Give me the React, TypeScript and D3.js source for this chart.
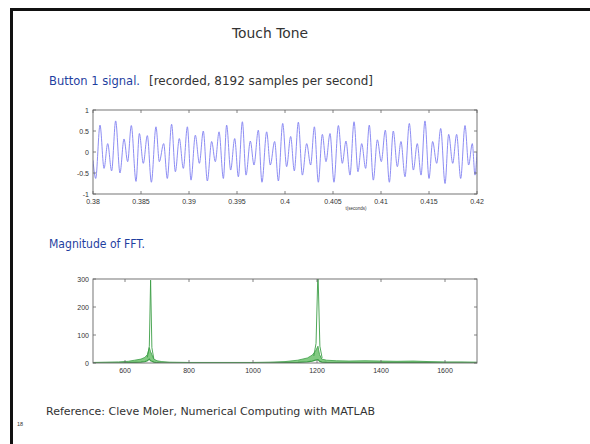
import React from 'react';
import * as d3 from 'd3';

// ---- Button 1 signal: extrema (t in seconds, value) ----
const signalT = [
  0.38, 0.38028, 0.38073, 0.38115, 0.38153, 0.38194, 0.38236, 0.38281, 0.38323, 0.38361,
  0.38399, 0.38448, 0.38483, 0.38524, 0.38566, 0.38608, 0.38656, 0.38691, 0.38736, 0.38774,
  0.38819, 0.38858, 0.38899, 0.38941, 0.38983, 0.39021, 0.39066, 0.39108, 0.39149, 0.39191,
  0.39236, 0.39274, 0.39313, 0.39358, 0.39392, 0.39434, 0.39476, 0.39514, 0.39556, 0.39594,
  0.39639, 0.39677, 0.39722, 0.3976, 0.39809, 0.39847, 0.39892, 0.39931, 0.39976, 0.40017,
  0.40059, 0.40097, 0.40139, 0.40181, 0.40226, 0.40267, 0.40306, 0.40347, 0.40389, 0.40427,
  0.40469, 0.4051, 0.40556, 0.40597, 0.40635, 0.40677, 0.40719, 0.4076, 0.40799, 0.4084,
  0.40878, 0.4092, 0.40962, 0.41003, 0.41045, 0.41087, 0.41128, 0.4117, 0.41208, 0.4125,
  0.41295, 0.41337, 0.41378, 0.41417, 0.41458, 0.415, 0.41538, 0.4158, 0.41622, 0.41667,
  0.41705, 0.41747, 0.41788, 0.4183, 0.41875, 0.41913, 0.41951, 0.41979, 0.42,
];
const signalV = [
  -0.2, -0.63, 0.64, -0.39, 0.2, -0.45, 0.74, -0.5, 0.31, -0.23,
  0.63, -0.7, 0.44, -0.27, 0.39, -0.72, 0.6, -0.23, 0.2, -0.63,
  0.66, -0.47, 0.32, -0.39, 0.6, -0.67, 0.4, -0.27, 0.5, -0.69,
  0.25, -0.23, 0.48, -0.63, 0.64, -0.43, 0.32, -0.59, 0.72, -0.55,
  0.26, -0.31, 0.52, -0.72, 0.48, -0.31, 0.25, -0.69, 0.68, -0.35,
  0.37, -0.45, 0.71, -0.55, 0.2, -0.31, 0.6, -0.72, 0.42, -0.23,
  0.44, -0.72, 0.63, -0.27, 0.26, -0.55, 0.72, -0.47, 0.2, -0.39,
  0.64, -0.67, 0.29, -0.23, 0.52, -0.72, 0.5, -0.35, 0.25, -0.59,
  0.68, -0.43, 0.2, -0.55, 0.74, -0.63, 0.25, -0.27, 0.56, -0.75,
  0.42, -0.27, 0.42, -0.63, 0.63, -0.31, 0.2, -0.55, 0.0,
];
const sigXTicks = [0.38, 0.385, 0.39, 0.395, 0.4, 0.405, 0.41, 0.415, 0.42];
const sigYTicks = [-1, -0.5, 0, 0.5, 1];

// ---- Magnitude of FFT: band envelope ----
const bandF = [500, 540, 580, 610, 630, 650, 662, 670, 676, 680, 684, 690, 700, 715, 740, 800, 900, 1000, 1050, 1100, 1140, 1170, 1185, 1195, 1203, 1208, 1215, 1230, 1260, 1300, 1350, 1400, 1450, 1500, 1550, 1600, 1650, 1700];
const bandHi = [2, 3, 4, 6, 10, 14, 20, 30, 55, 40, 30, 14, 8, 5, 3, 2, 2, 2, 3, 5, 10, 18, 28, 42, 60, 30, 14, 10, 8, 7, 8, 7, 6, 7, 5, 4, 4, 3];
const bandLo = [0, 0, 0, 1, 2, 3, 5, 8, 14, 8, 6, 3, 1, 0, 0, 0, 0, 0, 0, 1, 2, 4, 7, 10, 12, 6, 3, 2, 1, 1, 1, 1, 1, 1, 1, 0, 0, 0];
const peak1F = [670, 676, 680, 684, 690];
const peak1M = [20, 60, 296, 55, 15];
const peak2F = [1190, 1197, 1203, 1209, 1216];
const peak2M = [25, 70, 330, 60, 18];
const fftXTicks = [600, 800, 1000, 1200, 1400, 1600];
const fftYTicks = [0, 100, 200, 300];

const tickFont = 'Liberation Sans, Arial, sans-serif';
const textFont = '"Comic Sans MS", "DejaVu Sans", sans-serif';

function Frame({ x, y, xTicks, yTicks, fmt }: any) {
  const [x0, x1] = x.range();
  const [y0, y1] = y.range(); // y0 bottom, y1 top
  const tl = 3;
  return (
    <g>
      <rect x={x0} y={y1} width={x1 - x0} height={y0 - y1} fill="none" stroke="#666" strokeWidth={0.9} />
      {xTicks.map((t: number) => (
        <g key={'x' + t}>
          <line x1={x(t)} x2={x(t)} y1={y0} y2={y0 - tl} stroke="#666" strokeWidth={0.8} />
          <line x1={x(t)} x2={x(t)} y1={y1} y2={y1 + tl} stroke="#666" strokeWidth={0.8} />
          <text x={x(t)} y={y0 + 10} textAnchor="middle" fontSize={7} fontFamily={tickFont} fill="#333">{fmt(t)}</text>
        </g>
      ))}
      {yTicks.map((t: number) => (
        <g key={'y' + t}>
          <line x1={x0} x2={x0 + tl} y1={y(t)} y2={y(t)} stroke="#666" strokeWidth={0.8} />
          <line x1={x1} x2={x1 - tl} y1={y(t)} y2={y(t)} stroke="#666" strokeWidth={0.8} />
          <text x={x0 - 4} y={y(t) + 2.5} textAnchor="end" fontSize={7} fontFamily={tickFont} fill="#333">{fmt(t)}</text>
        </g>
      ))}
    </g>
  );
}

export default function App() {
  const fmt = (v: number) => String(+v.toFixed(3));

  // top plot
  const xs = d3.scaleLinear().domain([0.38, 0.42]).range([93, 477]);
  const ys = d3.scaleLinear().domain([-1, 1]).range([194, 110]);
  const sigPts = signalT.map((t, i) => [t, signalV[i]] as [number, number]);
  const sigLine = d3.line<[number, number]>().x(d => xs(d[0])).y(d => ys(d[1])).curve(d3.curveMonotoneX)(sigPts) || '';

  // bottom plot
  const xf = d3.scaleLinear().domain([500, 1700]).range([93, 477]);
  const yf = d3.scaleLinear().domain([0, 300]).range([363, 279]);
  const band = bandF.map((f, i) => ({ f, hi: bandHi[i], lo: bandLo[i] }));
  const bandArea = d3.area<any>().x(d => xf(d.f)).y0(d => yf(d.lo)).y1(d => yf(d.hi)).curve(d3.curveLinear)(band) || '';
  const bandTop = d3.line<any>().x(d => xf(d.f)).y(d => yf(d.hi))(band) || '';
  const bandBot = d3.line<any>().x(d => xf(d.f)).y(d => yf(d.lo))(band) || '';
  const p1 = d3.line<number>().x(f => xf(f)).y((f, i) => yf(peak1M[i]))(peak1F) || '';
  const p2 = d3.line<number>().x(f => xf(f)).y((f, i) => yf(peak2M[i]))(peak2F) || '';

  return (
    <svg width={590} height={444} style={{ position: 'absolute', left: 0, top: 0, background: '#fff' }}>
      <defs>
        <clipPath id="clipTop"><rect x={93} y={110} width={384} height={84} /></clipPath>
        <clipPath id="clipBot"><rect x={93} y={279} width={384} height={84} /></clipPath>
      </defs>
      {/* slide borders */}
      <rect x={10} y={8} width={580} height={3} fill="#111" />
      <rect x={10} y={8} width={3} height={436} fill="#111" />

      <text x={270} y={38} textAnchor="middle" fontSize={14} fontFamily={textFont} fill="#333" textLength={76} lengthAdjust="spacingAndGlyphs">Touch Tone</text>
      <text x={49} y={85} fontSize={12} fontFamily={textFont} fill="#1f3f9f" textLength={91} lengthAdjust="spacingAndGlyphs">Button 1 signal.</text>
      <text x={149} y={85} fontSize={12} fontFamily={textFont} fill="#333" textLength={224} lengthAdjust="spacingAndGlyphs">[recorded, 8192 samples per second]</text>

      {/* top plot */}
      <g clipPath="url(#clipTop)">
        <path d={sigLine} fill="none" stroke="#8080f2" strokeWidth={0.9} />
      </g>
      <Frame x={xs} y={ys} xTicks={sigXTicks} yTicks={sigYTicks} fmt={fmt} />
      <text x={356} y={210} textAnchor="middle" fontSize={4.5} fontFamily={tickFont} fill="#333">t(seconds)</text>

      <text x={49} y={248} fontSize={12} fontFamily={textFont} fill="#1f3f9f" textLength={96} lengthAdjust="spacingAndGlyphs">Magnitude of FFT.</text>

      {/* bottom plot */}
      <g clipPath="url(#clipBot)">
        <path d={bandArea} fill="#74c474" opacity={0.9} />
        <path d={bandTop} fill="none" stroke="#3c9e46" strokeWidth={0.8} />
        <path d={bandBot} fill="none" stroke="#3c9e46" strokeWidth={1.2} />
        <path d={p1} fill="none" stroke="#3c9e46" strokeWidth={0.9} />
        <path d={p2} fill="none" stroke="#3c9e46" strokeWidth={0.9} />
      </g>
      <Frame x={xf} y={yf} xTicks={fftXTicks} yTicks={fftYTicks} fmt={fmt} />

      <text x={46} y={415} fontSize={11} fontFamily={textFont} fill="#333" textLength={329} lengthAdjust="spacingAndGlyphs">Reference:  Cleve Moler, Numerical Computing with MATLAB</text>
      <text x={17} y={426} fontSize={5.5} fontFamily={tickFont} fill="#333">18</text>
    </svg>
  );
}
